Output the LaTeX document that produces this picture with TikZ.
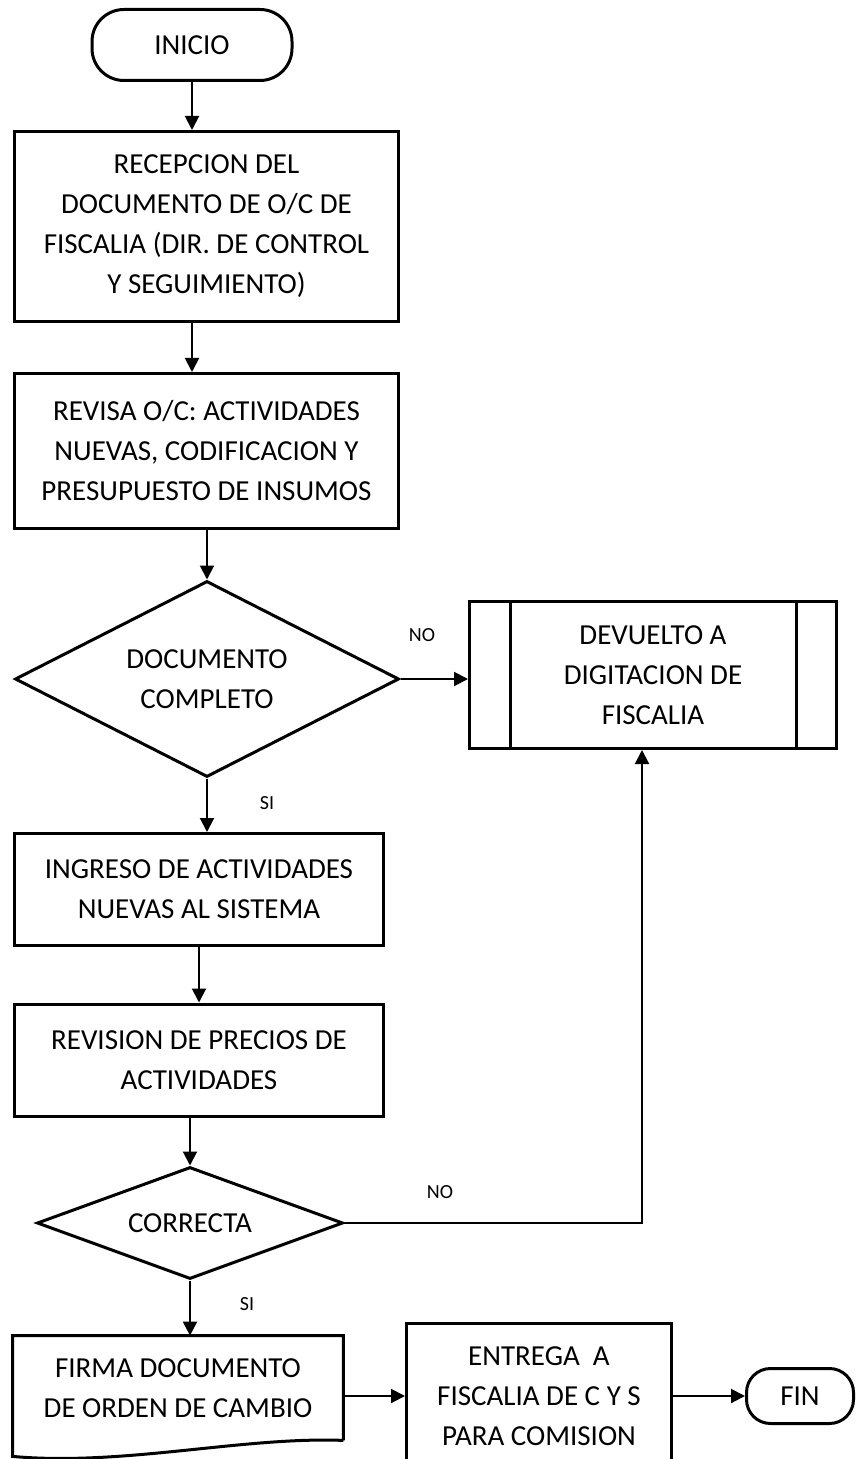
\documentclass[tikz,border=0pt]{standalone}
\usepackage{fontspec}
\setmainfont{Carlito}
\usepackage{tikz}
\usetikzlibrary{arrows.meta,shapes.geometric,calc}

\begin{document}
\begin{tikzpicture}[x=0.5pt,y=-0.5pt,
      font=\fontsize{14.5}{20}\selectfont,
      borde/.style={line width=1.5pt},
      proceso/.style={draw,borde,align=center,inner sep=2pt},
      decision/.style={draw,borde,diamond,aspect=2,align=center,inner sep=0pt},
      terminal/.style={draw,borde,align=center},
      flecha/.style={-{Triangle[length=7pt,width=7pt]},line width=1pt},
      etiq/.style={font=\fontsize{10}{12}\selectfont,inner sep=1pt}]
    \useasboundingbox (0,0) rectangle (856,1459);
    % columna principal
    \node[terminal,rounded corners=16pt,minimum width=100pt,minimum height=35.5pt] (inicio) at (192,45) {INICIO};
    \node[proceso,minimum width=192pt,minimum height=95pt] (recep) at (206.5,226.5) {RECEPCION DEL\\DOCUMENTO DE O/C DE\\FISCALIA (DIR. DE CONTROL\\Y SEGUIMIENTO)};
    \node[proceso,minimum width=192pt,minimum height=77.5pt] (revisa) at (206.5,451) {REVISA O/C: ACTIVIDADES\\NUEVAS, CODIFICACION Y\\PRESUPUESTO DE INSUMOS};
    \node[decision,minimum width=192pt,minimum height=98pt] (doccomp) at (207,679) {DOCUMENTO\\COMPLETO};
    \node[proceso,minimum width=183.5pt,minimum height=73.5pt] (devuelto) at (653,675) {DEVUELTO A\\DIGITACION DE\\FISCALIA};
    \draw[borde] ([xshift=21pt]devuelto.north west) -- ([xshift=21pt]devuelto.south west);
    \draw[borde] ([xshift=-21pt]devuelto.north east) -- ([xshift=-21pt]devuelto.south east);
    \node[proceso,minimum width=184.5pt,minimum height=56pt] (ingreso) at (199,889.5) {INGRESO DE ACTIVIDADES\\NUEVAS AL SISTEMA};
    \node[proceso,minimum width=184.5pt,minimum height=56pt] (revprec) at (199,1060) {REVISION DE PRECIOS DE\\ACTIVIDADES};
    \node[decision,minimum width=153pt,minimum height=56pt] (correcta) at (190,1223) {CORRECTA};
    % documento con borde ondulado
    \node[align=center,inner sep=0pt,minimum width=165pt,minimum height=52pt] (firma) at (178,1388) {FIRMA DOCUMENTO\\DE ORDEN DE CAMBIO};
    \draw[borde] (firma.south east) -- (firma.north east) -- (firma.north west) -- ([yshift=-8pt]firma.south west)
      .. controls +(55pt,-5pt) and +(-50pt,2pt) .. (firma.south east);
    \node[proceso,minimum width=132.5pt,minimum height=72.5pt] (entrega) at (539,1396) {ENTREGA\ \ A\\FISCALIA DE C Y S\\PARA COMISION};
    \node[terminal,rounded corners=12pt,minimum width=53.5pt,minimum height=27.5pt] (fin) at (800,1396) {FIN};
    % etiquetas
    \node[etiq] (no1) at (422,635) {NO};
    \node[etiq] (si1) at (267,803) {SI};
    \node[etiq] (no2) at (440,1192) {NO};
    \node[etiq] (si2) at (247,1304) {SI};
    % conectores
    \coordinate (codo) at (642,1223);
    \draw[flecha] (inicio.south) -- (inicio.south |- recep.north);
    \draw[flecha] (recep.south -| inicio.south) -- (inicio.south |- revisa.north);
    \draw[flecha] (revisa.south -| doccomp.north) -- (doccomp.north);
    \draw[flecha] (doccomp.east) -- (doccomp.east -| devuelto.west);
    \draw[flecha] (doccomp.south) -- (doccomp.south |- ingreso.north);
    \draw[flecha] (ingreso.south) -- (ingreso.south |- revprec.north);
    \draw[flecha] (revprec.south -| correcta.north) -- (correcta.north);
    \draw[flecha] (correcta.south) -- (correcta.south |- firma.north);
    \draw[flecha] (correcta.east) -- (codo) -- (codo |- devuelto.south);
    \draw[flecha] (firma.east |- entrega.west) -- (entrega.west);
    \draw[flecha] (entrega.east) -- (fin.west);
\end{tikzpicture}
\end{document}
